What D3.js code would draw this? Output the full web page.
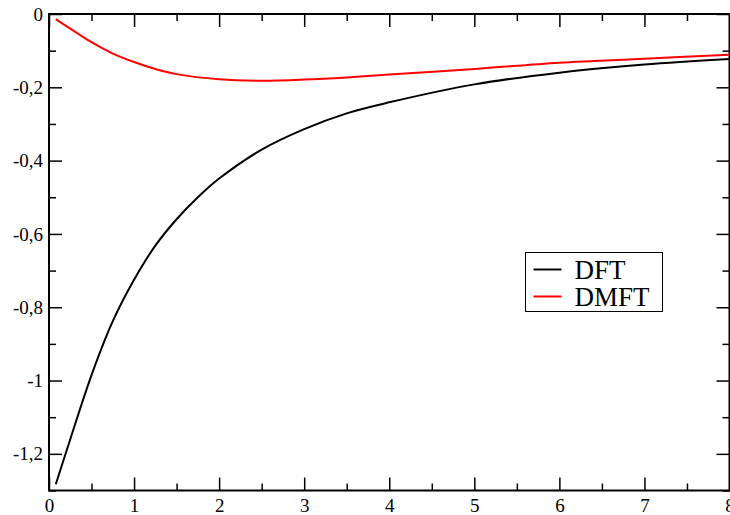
<!DOCTYPE html>
<html>
<head>
<meta charset="utf-8">
<script src="https://cdn.jsdelivr.net/npm/d3@7"></script>
<style>
  body { margin: 0; background: #fff; }
  text { font-family: "Liberation Serif", "Times New Roman", serif; }
</style>
</head>
<body>
<div class="vis-chart"></div>
<script>
// DFT curve (black)
const dftX = [0.08, 0.25, 0.5, 0.75, 1.0, 1.25, 1.5, 1.75, 2.0, 2.5, 3.0, 3.5, 4.0, 5.0, 6.0, 7.0, 8.0];
const dftY = [-1.283, -1.16, -0.985, -0.838, -0.725, -0.632, -0.560, -0.500, -0.449, -0.370, -0.314, -0.271, -0.241, -0.192, -0.160, -0.138, -0.123];

// DMFT curve (red)
const dmftX = [0.08, 0.25, 0.5, 0.75, 1.0, 1.25, 1.5, 2.0, 2.5, 3.0, 3.5, 4.0, 5.0, 6.0, 7.0, 8.0];
const dmftY = [-0.014, -0.040, -0.077, -0.108, -0.131, -0.150, -0.164, -0.178, -0.182, -0.179, -0.173, -0.165, -0.150, -0.133, -0.122, -0.111];

const seriesNames = ['DFT', 'DMFT'];
const seriesColors = ['#000000', '#ff0000'];

const xMajor = [0, 1, 2, 3, 4, 5, 6, 7, 8];
const xMinor = [0.5, 1.5, 2.5, 3.5, 4.5, 5.5, 6.5, 7.5];
const yMajor = [0, -0.2, -0.4, -0.6, -0.8, -1, -1.2];
const yMinor = [-0.1, -0.3, -0.5, -0.7, -0.9, -1.1, -1.3];

const draw = () => {
    const width = 730;
    const height = 515;
    const margin = { top: 14, right: 0.5, bottom: 24.5, left: 49 };

    const svg = d3.select('.vis-chart').append('svg')
        .attr('width', width).attr('height', height);

    const xScale = d3.scaleLinear().domain([0, 8]).range([margin.left, width - margin.right]);
    const yScale = d3.scaleLinear().domain([-1.3, 0]).range([height - margin.bottom, margin.top]);

    const fmt = d => d === 0 ? '0' : String(d).replace('.', ',');

    const x0 = xScale.range()[0], x1 = xScale.range()[1];
    const y0 = yScale.range()[0], y1 = yScale.range()[1];

    // axes, ticks pointing inward on all four sides
    const addAxis = (axis, transform) => {
        const g = svg.append('g').attr('transform', transform).call(axis);
        g.select('.domain').remove();
        g.selectAll('line').attr('stroke', '#000').attr('stroke-width', 1.5);
        return g;
    };

    const bottom = addAxis(d3.axisBottom(xScale).tickValues(xMajor).tickSize(-13).tickPadding(8).tickFormat(fmt),
        `translate(0,${y0})`);
    bottom.selectAll('text').attr('font-size', 19).attr('fill', '#000');
    addAxis(d3.axisBottom(xScale).tickValues(xMinor).tickSize(-7).tickFormat(''), `translate(0,${y0})`);

    addAxis(d3.axisTop(xScale).tickValues(xMajor).tickSize(-13).tickFormat(''), `translate(0,${y1})`);
    addAxis(d3.axisTop(xScale).tickValues(xMinor).tickSize(-7).tickFormat(''), `translate(0,${y1})`);

    const left = addAxis(d3.axisLeft(yScale).tickValues(yMajor).tickSize(-13).tickPadding(6).tickFormat(fmt),
        `translate(${x0},0)`);
    left.selectAll('text').attr('font-size', 19).attr('fill', '#000');
    addAxis(d3.axisLeft(yScale).tickValues(yMinor).tickSize(-7).tickFormat(''), `translate(${x0},0)`);

    addAxis(d3.axisRight(yScale).tickValues(yMajor).tickSize(-13).tickFormat(''), `translate(${x1},0)`);
    addAxis(d3.axisRight(yScale).tickValues(yMinor).tickSize(-7).tickFormat(''), `translate(${x1},0)`);

    // frame
    svg.append('rect')
        .attr('x', x0).attr('y', y1)
        .attr('width', x1 - x0).attr('height', y0 - y1)
        .attr('fill', 'none').attr('stroke', '#000').attr('stroke-width', 2);

    const line = d3.line()
        .x(d => xScale(d[0]))
        .y(d => yScale(d[1]))
        .curve(d3.curveCatmullRom.alpha(0.5));

    const series = [
        d3.zip(dftX, dftY),
        d3.zip(dmftX, dmftY)
    ];

    series.forEach((pts, i) => {
        svg.append('path')
            .datum(pts)
            .attr('d', line)
            .attr('fill', 'none')
            .attr('stroke', seriesColors[i])
            .attr('stroke-width', 2);
    });

    // legend
    const legend = svg.append('g').attr('transform', 'translate(525.5,252.5)');
    legend.append('rect')
        .attr('width', 137).attr('height', 59)
        .attr('fill', '#fff').attr('stroke', '#000').attr('stroke-width', 1);

    seriesNames.forEach((name, i) => {
        const row = legend.append('g').attr('transform', `translate(0,${17 + i * 27})`);
        row.append('line')
            .attr('x1', 8).attr('x2', 36)
            .attr('stroke', seriesColors[i]).attr('stroke-width', 2);
        row.append('text')
            .attr('x', 49).attr('y', 9)
            .attr('font-size', 27)
            .attr('fill', '#000')
            .text(name);
    });
};

draw();
</script>
</body>
</html>
